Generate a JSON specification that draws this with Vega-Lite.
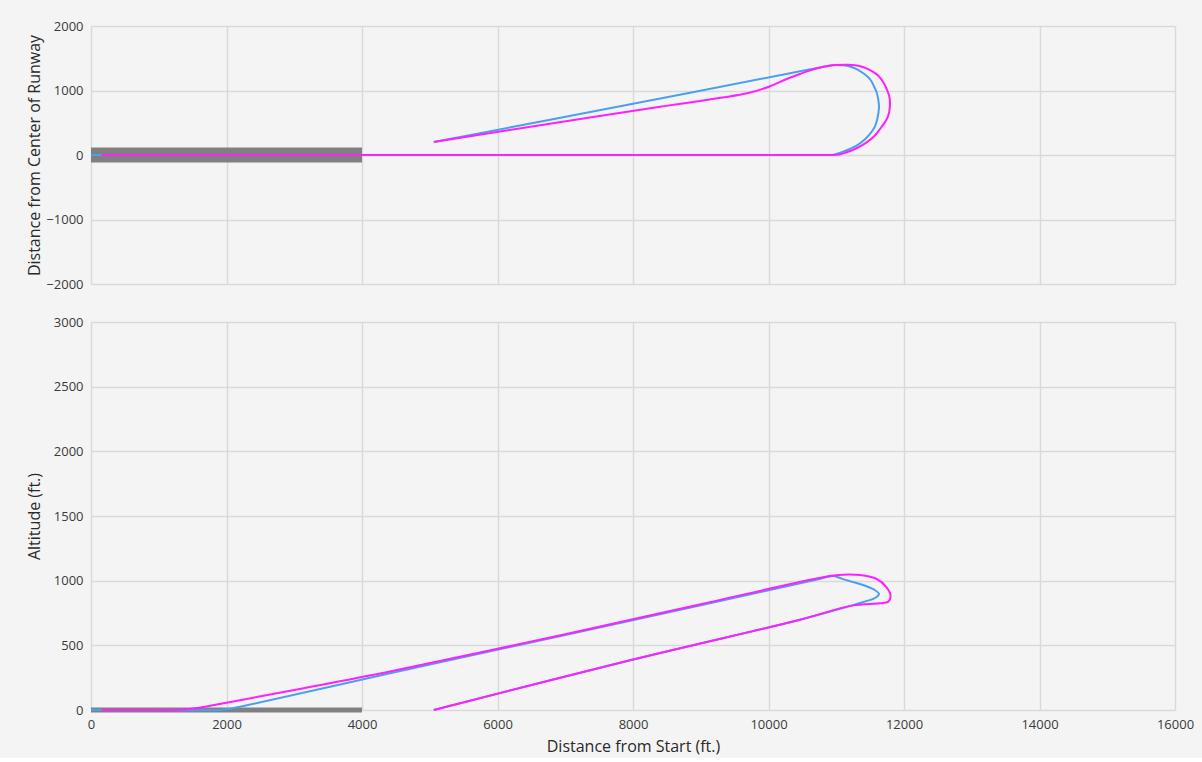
{
  "$schema": "https://vega.github.io/schema/vega-lite/v6.json",
  "background": "#f4f4f4",
  "padding": {"left": 25, "top": 20, "right": 12, "bottom": 4},
  "spacing": 38,
  "bounds": "flush",
  "config": {
    "font": "Open Sans",
    "view": {"stroke": null},
    "axis": {
      "domain": false,
      "ticks": false,
      "grid": true,
      "gridColor": "#d9d9d9",
      "gridWidth": 1.5,
      "labelColor": "#3a3a3a",
      "labelFontSize": 13,
      "labelPadding": 8,
      "labelFlush": false,
      "labelOverlap": false,
      "format": "d",
      "titleFontSize": 16,
      "titleFontWeight": "normal",
      "titleColor": "#2a2a2a"
    }
  },
  "datasets": {
    "lat": [
      {"s": "blue", "i": 0, "x": 0, "y": 0},
      {"s": "blue", "i": 1, "x": 5000, "y": 0},
      {"s": "blue", "i": 2, "x": 10600, "y": 0},
      {"s": "blue", "i": 3, "x": 10850, "y": 0},
      {"s": "blue", "i": 4, "x": 10960, "y": 3},
      {"s": "blue", "i": 5, "x": 11100, "y": 50},
      {"s": "blue", "i": 6, "x": 11301, "y": 145},
      {"s": "blue", "i": 7, "x": 11420, "y": 240},
      {"s": "blue", "i": 8, "x": 11498, "y": 326},
      {"s": "blue", "i": 9, "x": 11570, "y": 440},
      {"s": "blue", "i": 10, "x": 11606, "y": 558},
      {"s": "blue", "i": 11, "x": 11631, "y": 739},
      {"s": "blue", "i": 12, "x": 11620, "y": 860},
      {"s": "blue", "i": 13, "x": 11596, "y": 972},
      {"s": "blue", "i": 14, "x": 11550, "y": 1080},
      {"s": "blue", "i": 15, "x": 11498, "y": 1178},
      {"s": "blue", "i": 16, "x": 11410, "y": 1260},
      {"s": "blue", "i": 17, "x": 11301, "y": 1333},
      {"s": "blue", "i": 18, "x": 11200, "y": 1372},
      {"s": "blue", "i": 19, "x": 11104, "y": 1390},
      {"s": "blue", "i": 20, "x": 11000, "y": 1395},
      {"s": "blue", "i": 21, "x": 10932, "y": 1392},
      {"s": "blue", "i": 22, "x": 10600, "y": 1325},
      {"s": "blue", "i": 23, "x": 8000, "y": 795},
      {"s": "blue", "i": 24, "x": 5060, "y": 200},
      {"s": "magenta", "i": 0, "x": 160, "y": 0},
      {"s": "magenta", "i": 1, "x": 5000, "y": 0},
      {"s": "magenta", "i": 2, "x": 10650, "y": 0},
      {"s": "magenta", "i": 3, "x": 10900, "y": 0},
      {"s": "magenta", "i": 4, "x": 11050, "y": 8},
      {"s": "magenta", "i": 5, "x": 11153, "y": 42},
      {"s": "magenta", "i": 6, "x": 11300, "y": 105},
      {"s": "magenta", "i": 7, "x": 11449, "y": 196},
      {"s": "magenta", "i": 8, "x": 11560, "y": 290},
      {"s": "magenta", "i": 9, "x": 11646, "y": 403},
      {"s": "magenta", "i": 10, "x": 11720, "y": 510},
      {"s": "magenta", "i": 11, "x": 11768, "y": 610},
      {"s": "magenta", "i": 12, "x": 11793, "y": 765},
      {"s": "magenta", "i": 13, "x": 11785, "y": 900},
      {"s": "magenta", "i": 14, "x": 11744, "y": 1023},
      {"s": "magenta", "i": 15, "x": 11690, "y": 1135},
      {"s": "magenta", "i": 16, "x": 11621, "y": 1230},
      {"s": "magenta", "i": 17, "x": 11520, "y": 1305},
      {"s": "magenta", "i": 18, "x": 11400, "y": 1360},
      {"s": "magenta", "i": 19, "x": 11280, "y": 1390},
      {"s": "magenta", "i": 20, "x": 11153, "y": 1400},
      {"s": "magenta", "i": 21, "x": 11005, "y": 1395},
      {"s": "magenta", "i": 22, "x": 10908, "y": 1385},
      {"s": "magenta", "i": 23, "x": 10700, "y": 1340},
      {"s": "magenta", "i": 24, "x": 10465, "y": 1256},
      {"s": "magenta", "i": 25, "x": 10250, "y": 1170},
      {"s": "magenta", "i": 26, "x": 10022, "y": 1065},
      {"s": "magenta", "i": 27, "x": 9700, "y": 960},
      {"s": "magenta", "i": 28, "x": 8399, "y": 749},
      {"s": "magenta", "i": 29, "x": 6700, "y": 473},
      {"s": "magenta", "i": 30, "x": 5060, "y": 200}
    ],
    "alt": [
      {"s": "blue", "i": 0, "x": 0, "y": 0},
      {"s": "blue", "i": 1, "x": 1000, "y": 0},
      {"s": "blue", "i": 2, "x": 1900, "y": 0},
      {"s": "blue", "i": 3, "x": 2050, "y": 10},
      {"s": "blue", "i": 4, "x": 2300, "y": 36},
      {"s": "blue", "i": 5, "x": 4413, "y": 284},
      {"s": "blue", "i": 6, "x": 7000, "y": 580},
      {"s": "blue", "i": 7, "x": 9000, "y": 810},
      {"s": "blue", "i": 8, "x": 10700, "y": 1006},
      {"s": "blue", "i": 9, "x": 10957, "y": 1036},
      {"s": "blue", "i": 10, "x": 11100, "y": 1012},
      {"s": "blue", "i": 11, "x": 11351, "y": 974},
      {"s": "blue", "i": 12, "x": 11560, "y": 930},
      {"s": "blue", "i": 13, "x": 11631, "y": 897},
      {"s": "blue", "i": 14, "x": 11572, "y": 866},
      {"s": "blue", "i": 15, "x": 11400, "y": 835},
      {"s": "blue", "i": 16, "x": 11227, "y": 807},
      {"s": "blue", "i": 17, "x": 10465, "y": 698},
      {"s": "blue", "i": 18, "x": 8000, "y": 390},
      {"s": "blue", "i": 19, "x": 5060, "y": 0},
      {"s": "magenta", "i": 0, "x": 160, "y": 0},
      {"s": "magenta", "i": 1, "x": 800, "y": 0},
      {"s": "magenta", "i": 2, "x": 1250, "y": 0},
      {"s": "magenta", "i": 3, "x": 1600, "y": 18},
      {"s": "magenta", "i": 4, "x": 2000, "y": 56},
      {"s": "magenta", "i": 5, "x": 3000, "y": 155},
      {"s": "magenta", "i": 6, "x": 4413, "y": 298},
      {"s": "magenta", "i": 7, "x": 7000, "y": 586},
      {"s": "magenta", "i": 8, "x": 9000, "y": 818},
      {"s": "magenta", "i": 9, "x": 10900, "y": 1036},
      {"s": "magenta", "i": 10, "x": 11100, "y": 1046},
      {"s": "magenta", "i": 11, "x": 11350, "y": 1043},
      {"s": "magenta", "i": 12, "x": 11596, "y": 1013},
      {"s": "magenta", "i": 13, "x": 11743, "y": 949},
      {"s": "magenta", "i": 14, "x": 11802, "y": 884},
      {"s": "magenta", "i": 15, "x": 11768, "y": 838},
      {"s": "magenta", "i": 16, "x": 11645, "y": 825},
      {"s": "magenta", "i": 17, "x": 11227, "y": 807},
      {"s": "magenta", "i": 18, "x": 10465, "y": 698},
      {"s": "magenta", "i": 19, "x": 8000, "y": 390},
      {"s": "magenta", "i": 20, "x": 5060, "y": 0}
    ],
    "rwTop": [{"x0": 0, "x1": 4000, "y0": -115, "y1": 115}],
    "rwBot": [{"x0": 0, "x1": 4000, "y0": -20, "y1": 20}]
  },
  "vconcat": [
    {
      "width": 1084,
      "height": 258,
      "layer": [
        {
          "data": {"name": "rwTop"},
          "mark": {"type": "rect", "color": "#808080"},
          "encoding": {
            "x": {"field": "x0", "type": "quantitative", "scale": {"domain": [0, 16000], "nice": false},
                  "axis": {"values": [0, 2000, 4000, 6000, 8000, 10000, 12000, 14000, 16000], "labels": false, "title": null}},
            "x2": {"field": "x1"},
            "y": {"field": "y0", "type": "quantitative", "scale": {"domain": [-2000, 2000], "nice": false},
                  "axis": {"values": [-2000, -1000, 0, 1000, 2000], "title": "Distance from Center of Runway", "minExtent": 45, "maxExtent": 45, "titlePadding": 4}},
            "y2": {"field": "y1"}
          }
        },
        {
          "data": {"name": "lat"},
          "mark": {"type": "line", "strokeWidth": 2, "interpolate": "catmull-rom"},
          "encoding": {
            "x": {"field": "x", "type": "quantitative", "scale": {"domain": [0, 16000], "nice": false},
                  "axis": {"values": [0, 2000, 4000, 6000, 8000, 10000, 12000, 14000, 16000], "labels": false, "title": null}},
            "y": {"field": "y", "type": "quantitative", "scale": {"domain": [-2000, 2000], "nice": false},
                  "axis": {"values": [-2000, -1000, 0, 1000, 2000], "title": "Distance from Center of Runway", "minExtent": 45, "maxExtent": 45, "titlePadding": 4}},
            "color": {"field": "s", "type": "nominal", "scale": {"domain": ["blue", "magenta"], "range": ["#4a9ff0", "#ff1fff"]}, "legend": null},
            "order": {"field": "i", "type": "quantitative"}
          }
        }
      ]
    },
    {
      "width": 1084,
      "height": 388,
      "layer": [
        {
          "data": {"name": "rwBot"},
          "mark": {"type": "rect", "color": "#808080"},
          "encoding": {
            "x": {"field": "x0", "type": "quantitative", "scale": {"domain": [0, 16000], "nice": false},
                  "axis": {"values": [0, 2000, 4000, 6000, 8000, 10000, 12000, 14000, 16000], "title": "Distance from Start (ft.)", "titlePadding": 7}},
            "x2": {"field": "x1"},
            "y": {"field": "y0", "type": "quantitative", "scale": {"domain": [0, 3000], "nice": false},
                  "axis": {"values": [0, 500, 1000, 1500, 2000, 2500, 3000], "title": "Altitude (ft.)", "minExtent": 45, "maxExtent": 45, "titlePadding": 4}},
            "y2": {"field": "y1"}
          }
        },
        {
          "data": {"name": "alt"},
          "mark": {"type": "line", "strokeWidth": 2, "interpolate": "catmull-rom"},
          "encoding": {
            "x": {"field": "x", "type": "quantitative", "scale": {"domain": [0, 16000], "nice": false},
                  "axis": {"values": [0, 2000, 4000, 6000, 8000, 10000, 12000, 14000, 16000], "title": "Distance from Start (ft.)", "titlePadding": 7}},
            "y": {"field": "y", "type": "quantitative", "scale": {"domain": [0, 3000], "nice": false},
                  "axis": {"values": [0, 500, 1000, 1500, 2000, 2500, 3000], "title": "Altitude (ft.)", "minExtent": 45, "maxExtent": 45, "titlePadding": 4}},
            "color": {"field": "s", "type": "nominal", "scale": {"domain": ["blue", "magenta"], "range": ["#4a9ff0", "#ff1fff"]}, "legend": null},
            "order": {"field": "i", "type": "quantitative"}
          }
        }
      ]
    }
  ]
}
